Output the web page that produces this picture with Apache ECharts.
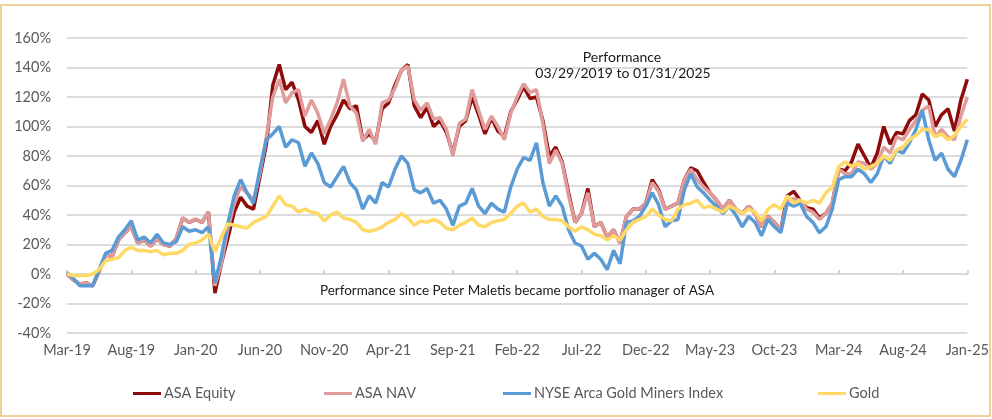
<!DOCTYPE html>
<html>
<head>
<meta charset="utf-8">
<script src="https://cdn.jsdelivr.net/npm/echarts@6/dist/echarts.min.js"></script>
<style>html,body{margin:0;padding:0;background:#fff}#c{width:992px;height:419px}</style>
</head>
<body>
<div id="c"></div>
<script>
// x positions are months since Mar-19, sampled every half month
const STEP = 0.5;
const tickLabels = ['Mar-19','Aug-19','Jan-20','Jun-20','Nov-20','Apr-21','Sep-21','Feb-22','Jul-22','Dec-22','May-23','Oct-23','Mar-24','Aug-24','Jan-25'];
const seriesNames = ['ASA Equity','ASA NAV','NYSE Arca Gold Miners Index','Gold'];

const asaEquity = [0,-4,-7,-6,-8,2,13,12,23,28,32,21,23,19,24,20,19,24,38,35,37,35,42,-13,7,24,42,52,46,44,66,88,128,142,125,130,118,100,96,104,88,100,108,118,112,114,91,95,90,112,116,128,138,142,114,106,113,100,104,96,82,100,104,120,108,95,106,97,93,110,118,127,119,120,104,80,86,76,55,35,41,58,32,35,25,30,21,39,44,44,48,64,57,44,46,48,64,72,70,62,55,50,44,50,44,41,46,41,32,39,35,30,53,56,50,45,44,38,41,48,71,70,76,88,80,72,82,100,88,96,95,104,108,122,118,100,108,112,97,118,132];
const asaNav = [0,-4,-7,-6,-8,2,13,12,23,28,32,21,23,19,24,20,19,24,38,35,37,35,42,-8,7,30,48,59,55,50,68,93,120,132,116,123,125,107,118,109,95,105,116,132,114,109,90,98,88,116,118,126,138,141,118,111,116,105,106,98,80,102,105,125,111,98,107,100,91,109,120,129,123,125,102,75,84,75,53,35,41,55,32,35,25,30,21,39,44,44,48,62,56,44,46,48,64,71,64,59,55,50,44,50,44,41,46,41,32,39,35,30,50,51,50,44,42,37,41,48,71,68,68,76,75,71,75,86,82,93,91,98,104,111,114,93,98,93,91,107,120];
const goldMiners = [1,-3,-8,-8,-8,3,14,16,25,30,36,23,25,21,27,21,20,22,32,29,30,28,32,-6,12,34,53,64,55,48,71,91,95,100,86,91,89,73,82,75,62,59,66,73,62,57,44,53,48,62,59,71,80,75,57,55,58,48,50,44,33,46,48,58,46,41,48,44,42,59,71,79,77,89,62,46,53,46,30,21,19,10,14,10,3,16,7,35,36,39,46,55,47,32,36,37,57,68,59,55,50,46,41,46,40,32,39,35,26,37,32,28,48,46,48,39,35,28,32,44,64,66,66,71,68,62,68,80,75,84,82,89,98,111,91,77,82,71,66,77,91];
const gold = [0,-1,-1,-1,0,3,9,10,11,16,18,16,16,15,16,13,14,14,16,20,21,23,27,15,25,34,33,32,31,35,37,39,46,53,47,46,42,44,42,41,36,40,42,38,37,35,30,29,30,32,35,37,41,38,33,36,35,37,35,31,30,33,35,38,33,32,35,36,37,41,46,48,42,44,39,37,37,36,32,29,32,30,27,26,23,26,23,30,35,37,39,44,40,37,36,44,47,48,50,45,46,44,42,46,44,41,44,42,36,44,47,44,53,48,50,48,50,48,55,59,73,76,73,75,71,73,75,80,77,84,86,91,94,98,98,93,95,91,94,100,105];

const seriesValues = [asaEquity, asaNav, goldMiners, gold];
const seriesColors = ['#8E0B0B', '#DF9C9A', '#5B9BD5', '#FFD966'];
const seriesWidths = [3.5, 3.5, 3.5, 3.5];

const FONT = 'Lato, "Open Sans", sans-serif';
const chart = echarts.init(document.getElementById('c'), null, {renderer: 'canvas'});

const legendLefts = [133, 324, 503, 818];

const option = {
  animation: false,
  backgroundColor: '#ffffff',
  grid: {left: 67, right: 22, top: 38, bottom: 86, containLabel: false},
  xAxis: [
    {
      type: 'value', min: 0, max: 70, interval: 5,
      axisLine: {show: false, onZero: false},
      axisTick: {show: false},
      splitLine: {show: false},
      axisLabel: {
        color: '#595959', fontSize: 14.5, fontFamily: FONT, margin: 10,
        formatter: v => tickLabels[Math.round(v / 5)] || ''
      }
    },
    {
      type: 'value', min: 0, max: 70, interval: 5,
      axisLine: {show: true, onZero: true, lineStyle: {color: '#D9D9D9', width: 2}},
      axisTick: {show: true, length: 4, lineStyle: {color: '#C8C8C8', width: 1.5}},
      splitLine: {show: false},
      axisLabel: {show: false}
    }
  ],
  yAxis: {
    type: 'value', min: -40, max: 160, interval: 20,
    axisLine: {show: false}, axisTick: {show: false},
    splitLine: {lineStyle: {color: '#DCDCDC', width: 2}},
    axisLabel: {color: '#595959', fontSize: 14.5, fontFamily: FONT, margin: 16, formatter: '{value}%'}
  },
  legend: seriesNames.map((n, k) => ({
    data: [n], left: legendLefts[k], top: 386, padding: 0,
    icon: 'rect', itemWidth: 28, itemHeight: 3, itemGap: 0,
    textStyle: {color: '#595959', fontSize: 14.5, fontFamily: FONT, padding: [0, 0, 0, -2]}
  })),
  series: seriesNames.map((n, k) => ({
    name: n, type: 'line', xAxisIndex: 0,
    data: seriesValues[k].map((v, i) => [i * STEP, v]),
    showSymbol: false, symbol: 'none',
    lineStyle: {color: seriesColors[k], width: seriesWidths[k]},
    itemStyle: {color: seriesColors[k]},
    z: 2 + k
  })),
  graphic: [
    {type: 'rect', shape: {x: 1, y: 5, width: 989, height: 411}, style: {fill: 'none', stroke: '#F0C07A', lineWidth: 1.5}, silent: true},
    {type: 'text', x: 622, y: 57, style: {text: 'Performance', textAlign: 'center', textVerticalAlign: 'middle', fill: '#1a1a1a', fontSize: 14, fontFamily: FONT}, z: 10},
    {type: 'text', x: 623, y: 73, style: {text: '03/29/2019 to 01/31/2025', textAlign: 'center', textVerticalAlign: 'middle', fill: '#1a1a1a', fontSize: 14, fontFamily: FONT}, z: 10},
    {type: 'text', x: 517, y: 291, style: {text: 'Performance since Peter Maletis became portfolio manager of ASA', textAlign: 'center', textVerticalAlign: 'middle', fill: '#1a1a1a', fontSize: 13.5, fontFamily: FONT}, z: 10}
  ]
};
chart.setOption(option);
</script>
</body>
</html>
